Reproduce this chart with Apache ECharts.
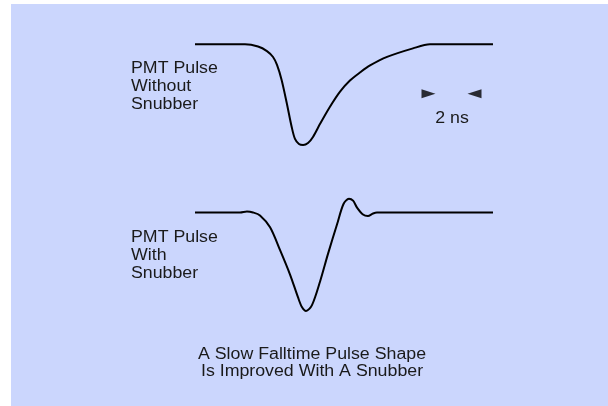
<!DOCTYPE html>
<html>
<head>
<meta charset="utf-8">
<script src="https://cdn.jsdelivr.net/npm/echarts@6/dist/echarts.min.js"></script>
<style>
  html, body { margin: 0; padding: 0; background: #ffffff; }
  #chart { width: 608px; height: 406px; }
</style>
</head>
<body>
<div id="chart"></div>
<script>
// time in ns, amplitude normalised (0 = baseline, -1 = pulse minimum)
const slowTime = [0, 3.03, 3.82, 4.36, 4.73, 4.97, 5.25, 5.56, 5.86, 6.06, 6.30, 6.55, 6.85, 7.15, 7.58, 8.18, 8.79, 9.39, 10.0, 10.61, 11.64, 13.21, 14.24, 18.06];
const slowAmp  = [0, 0, -0.022, -0.067, -0.126, -0.205, -0.354, -0.583, -0.821, -0.94, -0.99, -1.0, -0.98, -0.92, -0.79, -0.62, -0.47, -0.36, -0.28, -0.21, -0.125, -0.04, 0, 0];

const snubTime = [0, 2.73, 3.15, 3.52, 3.94, 4.55, 5.15, 5.76, 6.24, 6.48, 6.73, 7.09, 7.58, 8.06, 8.61, 9.0, 9.33, 9.58, 9.82, 10.18, 10.48, 10.79, 11.03, 18.06];
const snubAmp  = [0, 0, 0.01, 0, -0.03, -0.15, -0.38, -0.63, -0.86, -0.96, -1.00, -0.94, -0.70, -0.42, -0.12, 0.086, 0.14, 0.12, 0.05, -0.02, -0.035, -0.01, 0, 0];

// 2 ns scale marker (arrow centres) on the upper trace axes
const scaleArrows = [[14.15, -0.49], [16.94, -0.49]];

const zip = (xs, ys) => xs.map((x, i) => [x, ys[i]]);

const chart = echarts.init(document.getElementById("chart"));
const font = "Liberation Sans, Arial, Helvetica, sans-serif";
const textColor = "#1a1a1a";

const hiddenAxis = { show: false, splitLine: { show: false } };

// reference text is a little wider than the font
const label = (text, x, y, align, lineHeight) => ({
  type: "text", x, y, scaleX: 1.11,
  style: { text, font: "16px " + font, lineHeight, fill: textColor, align, verticalAlign: "middle" },
});

chart.setOption({
  animation: false,
  backgroundColor: "#ffffff",
  grid: [
    { left: 195, width: 297, top: 24.2, height: 120.8 },
    { left: 195, width: 297, top: 192.8, height: 118.2 },
  ],
  xAxis: [
    { ...hiddenAxis, type: "value", min: 0, max: 18, gridIndex: 0 },
    { ...hiddenAxis, type: "value", min: 0, max: 18, gridIndex: 1 },
  ],
  yAxis: [
    { ...hiddenAxis, type: "value", min: -1, max: 0.2, gridIndex: 0 },
    { ...hiddenAxis, type: "value", min: -1, max: 0.2, gridIndex: 1 },
  ],
  graphic: [
    { type: "rect", z: -10, shape: { x: 11, y: 4, width: 597, height: 402 }, style: { fill: "#cbd6fd" } },
    label("PMT Pulse\nWithout\nSnubber", 131, 87, "left", 18),
    label("PMT Pulse\nWith\nSnubber", 131, 255.5, "left", 18),
    label("2 ns", 452, 119, "center", 18),
    label("A Slow Falltime Pulse Shape\nIs Improved With A Snubber", 312, 363.5, "center", 17),
  ],
  series: [
    {
      type: "line", xAxisIndex: 0, yAxisIndex: 0,
      data: zip(slowTime, slowAmp),
      smooth: 0.3, showSymbol: false, clip: false,
      lineStyle: { color: "#000", width: 2 },
    },
    {
      type: "line", xAxisIndex: 1, yAxisIndex: 1,
      data: zip(snubTime, snubAmp),
      smooth: 0.3, showSymbol: false, clip: false,
      lineStyle: { color: "#000", width: 2 },
    },
    {
      type: "scatter", xAxisIndex: 0, yAxisIndex: 0,
      data: scaleArrows.map((p, i) => ({ value: p, symbolRotate: i === 0 ? -90 : 90 })),
      symbol: "triangle", symbolSize: [9, 14], clip: false,
      itemStyle: { color: "#000" },
    },
  ],
});
</script>
</body>
</html>
